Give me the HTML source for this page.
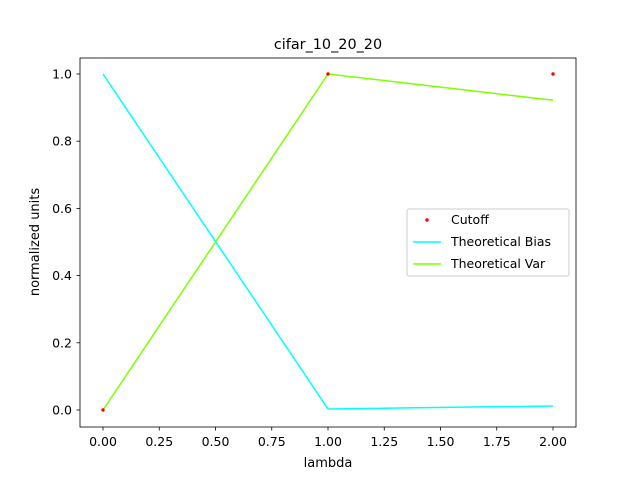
<!DOCTYPE html>
<html><head><meta charset="utf-8"><style>body{margin:0;background:#fff}svg{display:block;font-family:"DejaVu Sans","Liberation Sans",sans-serif}</style></head>
<body>
<svg id="chart" width="640" height="480" xmlns="http://www.w3.org/2000/svg">
<rect width="640" height="480" fill="#fff"/>
<text x="328" y="49" font-size="14.4" text-anchor="middle">cifar_10_20_20</text>
<g id="plot"></g>
<rect x="80" y="58" width="496" height="369" fill="none" stroke="#000" stroke-width="0.8"/>
<text x="328" y="467" font-size="13" text-anchor="middle">lambda</text>
<text transform="translate(39,242) rotate(-90)" font-size="13" text-anchor="middle">normalized units</text>
<g>
<rect x="407" y="209" width="162" height="67" rx="2" fill="#fff" fill-opacity="0.8" stroke="#ccc"/>
<circle cx="427" cy="220" r="1.7" fill="red"/>
<text x="451" y="224" font-size="12.5">Cutoff</text>
<line x1="413" y1="242" x2="441" y2="242" stroke="#00ffff" stroke-width="1.5"/>
<text x="451" y="246" font-size="12.5">Theoretical Bias</text>
<line x1="413" y1="264" x2="441" y2="264" stroke="#7fff00" stroke-width="1.5"/>
<text x="451" y="268" font-size="12.5">Theoretical Var</text>
</g>
</svg>
<script>
const lambdas=[0,1,2];
const cutoff=[0,1,1];
const bias=[1,0.003,0.012];
const variance=[0,1,0.922];
const xTicks=[0,0.25,0.5,0.75,1,1.25,1.5,1.75,2];
const yTicks=[0,0.2,0.4,0.6,0.8,1.0];
const X=v=>103+v*225, Y=v=>410-v*336;
const NS="http://www.w3.org/2000/svg";
const g=document.getElementById('plot');
function mk(t,a){const e=document.createElementNS(NS,t);for(const k in a)e.setAttribute(k,a[k]);g.appendChild(e);return e;}
xTicks.forEach(v=>{
 const l=mk('line',{x1:X(v),x2:X(v),y1:427,y2:430.5,stroke:'#000','stroke-width':0.8});
 
 
 const t=mk('text',{x:X(v),y:446,'font-size':12.5,'text-anchor':'middle'});t.textContent=v.toFixed(2);
 
 
});
yTicks.forEach(v=>{
 const l=mk('line',{x1:76.5,x2:80,y1:Y(v),y2:Y(v),stroke:'#000','stroke-width':0.8});
 
 
 const t=mk('text',{x:72,y:Y(v)+4.5,'font-size':12.5,'text-anchor':'end'});t.textContent=v.toFixed(1);
 
 
});
const pb=mk('polyline',{points:lambdas.map((x,i)=>X(x)+','+Y(bias[i])).join(' '),fill:'none',stroke:'#00ffff','stroke-width':1.5});


const pv=mk('polyline',{points:lambdas.map((x,i)=>X(x)+','+Y(variance[i])).join(' '),fill:'none',stroke:'#7fff00','stroke-width':1.5});


lambdas.forEach((x,i)=>{
 const c=mk('circle',{cx:X(x),cy:Y(cutoff[i]),r:1.7,fill:'red'});
 
 
});
</script>
</body></html>
